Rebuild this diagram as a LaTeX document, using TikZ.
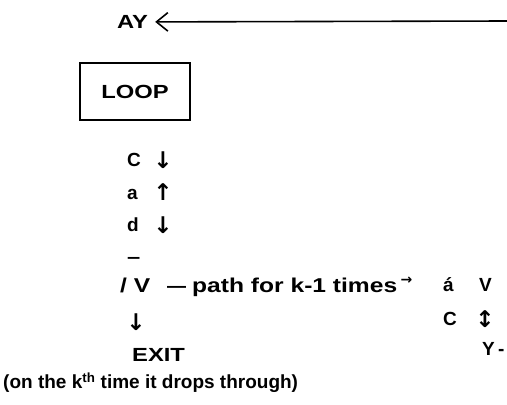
\documentclass[tikz,border=0pt]{standalone}
\usepackage{fontspec}
\setmainfont{Liberation Sans}
\newfontfamily\arrowfont{DejaVu Sans}
\usetikzlibrary{arrows.meta,positioning}
\tikzset{
  txt/.style={font=\fontsize{19}{22}\selectfont\bfseries,inner sep=0pt,anchor=base west},
  widetxt/.style={txt,font=\fontsize{19}{22}\selectfont\bfseries\addfontfeature{FakeStretch=1.25}},
  pathtxt/.style={txt,font=\fontsize{20}{22}\selectfont\bfseries\addfontfeature{FakeStretch=1.23}},
  arr/.style={font=\fontsize{23}{24}\selectfont\arrowfont\bfseries,inner sep=0pt},
  loopbox/.style={draw,line width=1.4pt,minimum width=110pt,minimum height=57pt,inner sep=0pt,
                  font=\fontsize{19}{22}\selectfont\bfseries\addfontfeature{FakeStretch=1.25}},
  backflow/.style={-{Straight Barb[length=4mm,width=6.5mm]},line width=1.6pt}
}
\begin{document}
\begin{tikzpicture}[x=1pt,y=-1pt]
  \useasboundingbox (0,0) rectangle (507,405);
  % top return line
  \node[widetxt] (ay) at (117,28.5) {AY};
  \coordinate (feed) at (507,21);
  \draw[backflow,shorten >=7pt] (feed) -- (ay);
  \node[loopbox] (loop) at (135,91.5) {LOOP};
  % the body of the loop
  \node[txt] (c1) at (127,166.5) {C};
  \node[arr] (c1arr) at (163,160) {↓};
  \node[txt] (a1) at (127,199) {a};
  \node[arr] (a1arr) at (163,192) {↑};
  \node[txt] (d1) at (127,231.5) {d};
  \node[arr] (d1arr) at (163,225) {↓};
  \node[widetxt] (bar) at (127,263) {–};
  \node[pathtxt] (split) at (120,292) {/ V};
  \node[txt] (dash) at (167,292) {—};
  \node[pathtxt] (path) at (192,292) {path for k-1 times\,{\arrowfont\bfseries\fontsize{14}{14}\selectfont\raisebox{8pt}{→}}};
  \node[txt] (a2) at (443,291.5) {á};
  \node[txt] (v2) at (479,291.5) {V};
  \node[arr] (drop) at (136,322) {↓};
  \node[txt] (c2) at (443,325.5) {C};
  \node[arr] (c2arr) at (485,319) {↕};
  \node[widetxt] (exit) at (132,361.5) {EXIT};
  \node[txt] (y2) at (482,355.5) {Y\,-};
  \node[txt] (note) at (3,388.5) {(on the k\textsuperscript{th} time it drops through)};
\end{tikzpicture}
\end{document}
